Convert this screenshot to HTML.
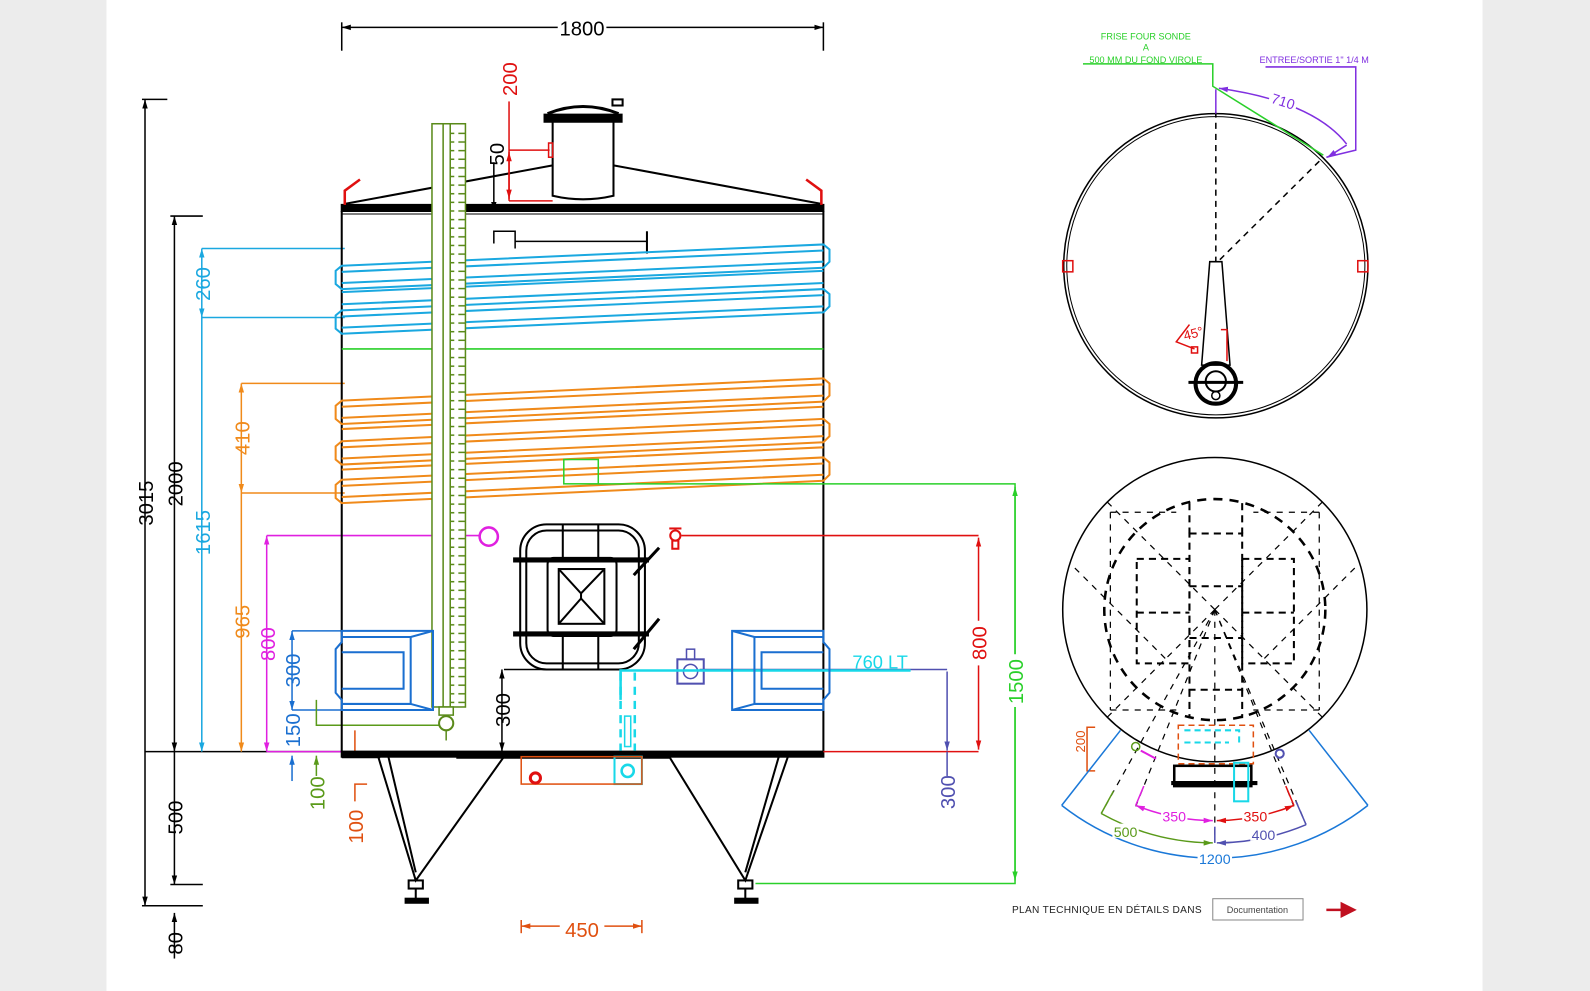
<!DOCTYPE html>
<html><head><meta charset="utf-8"><style>
html,body{margin:0;padding:0;background:#ececec;}
svg{display:block;}
text{font-family:"Liberation Sans",sans-serif;}
</style></head><body>
<svg width="1590" height="991" viewBox="0 0 1568 977" preserveAspectRatio="none" xmlns="http://www.w3.org/2000/svg">
<defs>
<marker id="a" viewBox="0 0 10 10" refX="10" refY="5" markerWidth="6" markerHeight="6" orient="auto-start-reverse"><path d="M0,2 L10,5 L0,8z" fill="context-stroke"/></marker>
<pattern id="tk" width="14" height="8.5" patternUnits="userSpaceOnUse"><line x1="4" y1="4" x2="14" y2="4" stroke="#5a8a1a" stroke-width="1.5"/></pattern>
</defs>
<rect x="0" y="0" width="1568" height="977" fill="#ececec"/>
<rect x="105" y="0" width="1357" height="977" fill="#fff"/>

<g stroke="#000" stroke-width="1.5" fill="none">
<line x1="337" y1="27" x2="812" y2="27" marker-start="url(#a)" marker-end="url(#a)"/>
<line x1="337" y1="22" x2="337" y2="50"/><line x1="812" y1="22" x2="812" y2="50"/>
</g>
<rect x="550" y="17" width="48" height="20" fill="#fff"/>
<text x="574" y="35" font-size="20" text-anchor="middle">1800</text>

<g stroke="#000" stroke-width="1.5" fill="none">
<line x1="143" y1="98" x2="143" y2="893" marker-start="url(#a)" marker-end="url(#a)"/>
<line x1="140" y1="98" x2="165" y2="98"/><line x1="140" y1="893" x2="200" y2="893"/>
<line x1="172" y1="213" x2="172" y2="741" marker-start="url(#a)" marker-end="url(#a)"/>
<line x1="172" y1="741" x2="172" y2="872" marker-end="url(#a)"/>
<line x1="168" y1="213" x2="200" y2="213"/><line x1="168" y1="872" x2="200" y2="872"/>
<line x1="172" y1="900" x2="172" y2="945" marker-start="url(#a)"/>
<line x1="143" y1="741" x2="337" y2="741"/>
</g>
<g font-size="20" text-anchor="middle">
<text transform="translate(151,496) rotate(-90)">3015</text>
<text transform="translate(180,477) rotate(-90)">2000</text>
<text transform="translate(180,806) rotate(-90)">500</text>
<text transform="translate(180,930) rotate(-90)">80</text>
</g>
<g stroke="#1aa8e0" stroke-width="1.5" fill="none">
<line x1="199" y1="245" x2="340" y2="245"/><line x1="199" y1="313" x2="340" y2="313"/>
<line x1="199" y1="245" x2="199" y2="313" marker-start="url(#a)" marker-end="url(#a)"/>
<line x1="199" y1="313" x2="199" y2="741" marker-end="url(#a)"/>
</g>
<g font-size="20" fill="#1aa8e0" text-anchor="middle">
<text transform="translate(207,280) rotate(-90)">260</text>
<text transform="translate(207,525) rotate(-90)">1615</text>
</g>
<g stroke="#f08a1a" stroke-width="1.5" fill="none">
<line x1="238" y1="378" x2="340" y2="378"/><line x1="238" y1="486" x2="340" y2="486"/>
<line x1="238" y1="378" x2="238" y2="486" marker-start="url(#a)" marker-end="url(#a)"/>
<line x1="238" y1="486" x2="238" y2="741" marker-end="url(#a)"/>
</g>
<g font-size="20" fill="#f08a1a" text-anchor="middle">
<text transform="translate(246,432) rotate(-90)">410</text>
<text transform="translate(246,613) rotate(-90)">965</text>
</g>
<g stroke="#e020e0" stroke-width="1.5" fill="none">
<line x1="263" y1="528" x2="474" y2="528"/>
<line x1="263" y1="528" x2="263" y2="741" marker-start="url(#a)" marker-end="url(#a)"/>
<circle cx="482" cy="529" r="9" stroke-width="2.5"/>
<line x1="263" y1="741" x2="337" y2="741"/>
</g>
<text transform="translate(271,635) rotate(-90)" font-size="20" fill="#e020e0" text-anchor="middle">800</text>
<g stroke="#1a6fd0" stroke-width="1.5" fill="none">
<line x1="288" y1="622" x2="337" y2="622"/><line x1="288" y1="700" x2="337" y2="700"/>
<line x1="288" y1="622" x2="288" y2="700" marker-start="url(#a)" marker-end="url(#a)"/>
<line x1="288" y1="745" x2="288" y2="770" marker-start="url(#a)"/>
</g>
<g font-size="20" fill="#1a6fd0" text-anchor="middle">
<text transform="translate(296,661) rotate(-90)">300</text>
<text transform="translate(296,720) rotate(-90)">150</text>
</g>
<g stroke="#5a9a1a" stroke-width="1.5" fill="none">
<polyline points="312,690 312,715 440,715"/>
<line x1="312" y1="745" x2="312" y2="765" marker-start="url(#a)"/>
</g>
<text transform="translate(320,782) rotate(-90)" font-size="20" fill="#5a9a1a" text-anchor="middle">100</text>
<g stroke="#e05010" stroke-width="1.5" fill="none">
<polyline points="350,720 350,745 362,745"/>
<polyline points="362,773 350,773 350,790"/>
</g>
<text transform="translate(358,815) rotate(-90)" font-size="20" fill="#e05010" text-anchor="middle">100</text>

<g stroke="#000" stroke-width="2" fill="none">
<line x1="337" y1="208" x2="337" y2="741"/><line x1="812" y1="208" x2="812" y2="741"/>
<rect x="337" y="202" width="475" height="6" fill="#000"/>
<line x1="337" y1="211" x2="812" y2="211" stroke-width="1"/>
<polyline points="340,201 545,163"/><polyline points="605,163 810,201"/>
<path d="M545,120 L545,193 Q575,200 605,193 L605,120"/>
<path d="M537,120 L613,120 L613,113 L537,113z" fill="#000"/>
<path d="M540,112 Q575,98 610,112" stroke-width="3"/>
<rect x="604" y="98" width="10" height="6"/>
<rect x="337" y="741" width="475" height="5" fill="#000"/>
<line x1="337" y1="746" x2="375" y2="746" stroke-width="3"/>
<polyline points="373,746 410,868 497,746"/>
<polyline points="383,746 410,860"/>
<polyline points="660,746 735,868 777,746"/>
<polyline points="768,746 735,860"/>
<rect x="403" y="868" width="14" height="8"/><line x1="410" y1="876" x2="410" y2="886"/><rect x="400" y="886" width="22" height="4" fill="#000"/>
<rect x="728" y="868" width="14" height="8"/><line x1="735" y1="876" x2="735" y2="886"/><rect x="725" y="886" width="22" height="4" fill="#000"/>
<line x1="450" y1="746" x2="660" y2="746" stroke-width="4"/>
<line x1="497" y1="660" x2="612" y2="660" stroke-width="1.5"/>
<line x1="495" y1="660" x2="495" y2="741" stroke-width="1.5" marker-start="url(#a)" marker-end="url(#a)"/>
<polyline points="487,240 487,228 508,228 508,245" stroke-width="1.5"/>
<line x1="508" y1="238" x2="638" y2="238" stroke-width="1.5"/>
<line x1="638" y1="228" x2="638" y2="250"/>
<line x1="487" y1="160" x2="487" y2="208" stroke-width="1.5" marker-end="url(#a)"/>
</g>
<text transform="translate(497,152) rotate(-90)" font-size="20" text-anchor="middle">50</text>
<text transform="translate(503,700) rotate(-90)" font-size="20" text-anchor="middle">300</text>
<g stroke="#e01010" stroke-width="2.5" fill="none">
<polyline points="355,177 340,188 340,202"/><polyline points="795,177 810,188 810,202"/>
</g>
<g stroke="#e01010" stroke-width="1.5" fill="none">
<line x1="502" y1="100" x2="502" y2="198"/><line x1="502" y1="198" x2="545" y2="198"/>
<line x1="502" y1="148" x2="542" y2="148"/><rect x="541" y="141" width="4" height="14"/>
<line x1="502" y1="150" x2="502" y2="196" marker-start="url(#a)" marker-end="url(#a)"/>
</g>
<text transform="translate(510,78) rotate(-90)" font-size="20" fill="#e01010" text-anchor="middle">200</text>

<g stroke="#1aa8e0" stroke-width="2" fill="none">
<path d="M337,262 L812,241 L818,246 L818,258 L812,264 L337,285 L331,280 L331,267z"/>
<path d="M337,268 L812,247 M337,279 L812,258"/>
<path d="M337,306 L812,285 L818,290 L818,302 L812,308 L337,329 L331,324 L331,311z"/>
<path d="M337,312 L812,291 M337,323 L812,302"/>
<path d="M337,288 L812,267 M337,300 L812,279"/>
</g>
<line x1="337" y1="344" x2="812" y2="344" stroke="#2ad02a" stroke-width="1.5"/>
<g stroke="#f08a1a" stroke-width="2" fill="none">
<path d="M337,395 L812,373 L818,378 L818,390 L812,396 L337,418 L331,413 L331,400z"/>
<path d="M337,435 L812,413 L818,418 L818,430 L812,436 L337,458 L331,453 L331,440z"/>
<path d="M337,473 L812,451 L818,456 L818,468 L812,474 L337,496 L331,491 L331,478z"/>
<path d="M337,401 L812,379 M337,412 L812,390 M337,441 L812,419 M337,452 L812,430 M337,479 L812,457 M337,490 L812,468 M337,423 L812,401 M337,463 L812,441"/>
</g>
<g stroke="#5a8a1a" stroke-width="1.5" fill="#fff">
<rect x="426" y="122" width="33" height="575"/>
<line x1="437" y1="122" x2="437" y2="697"/><line x1="444" y1="122" x2="444" y2="697"/>
<rect x="444" y="124" width="15" height="571" fill="url(#tk)" stroke="none"/>
<rect x="433" y="697" width="14" height="8"/>
<circle cx="440" cy="713" r="7" stroke-width="2"/>
<line x1="440" y1="720" x2="440" y2="730"/>
</g>
<g stroke="#2ad02a" stroke-width="1.5" fill="none">
<rect x="556" y="453" width="34" height="24"/>
<polyline points="590,477 1001,477 1001,871 745,871"/>
<line x1="1001" y1="480" x2="1001" y2="868" marker-start="url(#a)" marker-end="url(#a)"/>
</g>
<rect x="991" y="645" width="20" height="52" fill="#fff"/>
<text transform="translate(1009,672) rotate(-90)" font-size="20" fill="#2ad02a" text-anchor="middle">1500</text>

<g stroke="#000" stroke-width="2" fill="none">
<rect x="513" y="517" width="123" height="143" rx="26"/>
<rect x="519" y="523" width="111" height="131" rx="20"/>
<rect x="540" y="550" width="68" height="77" rx="6"/>
<rect x="551" y="561" width="45" height="54"/>
<path d="M551,561 L573,585 L596,561 M551,615 L573,590 L596,615 M573,585 L573,590"/>
<line x1="506" y1="552" x2="640" y2="552" stroke-width="5"/>
<line x1="506" y1="625" x2="640" y2="625" stroke-width="5"/>
<line x1="625" y1="567" x2="650" y2="540" stroke-width="3"/>
<line x1="625" y1="640" x2="650" y2="610" stroke-width="3"/>
<line x1="555" y1="517" x2="555" y2="550"/><line x1="590" y1="517" x2="590" y2="550"/>
<line x1="555" y1="627" x2="555" y2="660"/><line x1="590" y1="627" x2="590" y2="660"/>
</g>
<g stroke="#e01010" stroke-width="1.5" fill="none">
<line x1="672" y1="528" x2="965" y2="528"/>
<line x1="812" y1="741" x2="965" y2="741"/>
<line x1="965" y1="530" x2="965" y2="739" marker-start="url(#a)" marker-end="url(#a)"/>
<circle cx="666" cy="528" r="5" stroke-width="2"/><line x1="660" y1="521" x2="672" y2="521" stroke-width="2"/>
<rect x="663" y="533" width="6" height="8" stroke-width="2"/>
</g>
<rect x="955" y="612" width="20" height="44" fill="#fff"/>
<text transform="translate(973,634) rotate(-90)" font-size="20" fill="#e01010" text-anchor="middle">800</text>
<g stroke="#5050b0" stroke-width="1.5" fill="none">
<line x1="690" y1="660" x2="934" y2="660"/>
<line x1="934" y1="662" x2="934" y2="740" marker-end="url(#a)"/>
<line x1="934" y1="741" x2="934" y2="765"/>
<rect x="668" y="650" width="26" height="24" stroke-width="2"/><circle cx="681" cy="662" r="7"/>
<rect x="677" y="640" width="8" height="10"/>
</g>
<text transform="translate(942,781) rotate(-90)" font-size="20" fill="#5050b0" text-anchor="middle">300</text>
<g stroke="#18d8e8" stroke-width="2.5" fill="none">
<polyline points="612,690 612,661 898,661"/>
<line x1="626" y1="663" x2="626" y2="740" stroke-dasharray="8,6"/>
<line x1="612" y1="663" x2="612" y2="740" stroke-dasharray="8,6"/>
<rect x="616" y="706" width="6" height="30" stroke-width="1.5"/>
<rect x="606" y="746" width="27" height="27" stroke-width="2"/><circle cx="619" cy="760" r="6"/>
</g>
<text x="868" y="659" font-size="18" fill="#18d8e8" text-anchor="middle">760 LT</text>
<g stroke="#1a6fd0" stroke-width="2" fill="none">
<path d="M337,622 L427,622 L427,700 L337,700 L337,690 L331,683 L331,640 L337,633z"/>
<path d="M337,628 L405,628 L405,694 L337,694 M405,628 L427,622 M405,694 L427,700 M337,643 L398,643 L398,679 L337,679"/>
<path d="M812,622 L722,622 L722,700 L812,700 L812,690 L818,683 L818,640 L812,633z"/>
<path d="M812,628 L744,628 L744,694 L812,694 M744,628 L722,622 M744,694 L722,700 M812,643 L751,643 L751,679 L812,679"/>
</g>
<g stroke="#e05010" stroke-width="1.5" fill="none">
<rect x="514" y="746" width="119" height="27"/>
<line x1="514" y1="913" x2="633" y2="913" marker-start="url(#a)" marker-end="url(#a)"/>
<line x1="514" y1="907" x2="514" y2="920"/><line x1="633" y1="907" x2="633" y2="920"/>
</g>
<circle cx="528" cy="767" r="5" stroke="#e01010" stroke-width="3" fill="none"/>
<rect x="552" y="905" width="44" height="20" fill="#fff"/>
<text x="574" y="924" font-size="20" fill="#e05010" text-anchor="middle">450</text>

<g fill="none" stroke="#000">
<circle cx="1199" cy="262" r="150" stroke-width="1.5"/>
<circle cx="1199" cy="262" r="147" stroke-width="1"/>
<line x1="1199" y1="110" x2="1199" y2="258" stroke-dasharray="6,5" stroke-width="1.5"/>
<line x1="1203" y1="256" x2="1305" y2="155" stroke-dasharray="6,5" stroke-width="1.5"/>
<path d="M1193,258 L1205,258 L1213,360 L1185,360z" stroke-width="1.5"/>
<circle cx="1199" cy="378" r="20" stroke-width="4"/>
<circle cx="1199" cy="376" r="10" stroke-width="2"/>
<line x1="1172" y1="377" x2="1226" y2="377" stroke-width="3"/>
<circle cx="1199" cy="390" r="4" stroke-width="1.5"/>
</g>
<g stroke="#e01010" stroke-width="1.5" fill="none">
<rect x="1048" y="257" width="10" height="11"/><rect x="1339" y="257" width="10" height="11"/>
<polyline points="1204,325 1210,325 1210,356"/>
<polyline points="1178,344 1160,337 1173,320"/><rect x="1175" y="342" width="6" height="6"/>
</g>
<text x="1178" y="333" font-size="13" fill="#e01010" text-anchor="middle" transform="rotate(-15 1178 333)">45°</text>
<g stroke="#2ad02a" stroke-width="1.5" fill="none">
<polyline points="1068,63 1196,63 1196,85 1305,153"/>
</g>
<g font-size="9" fill="#2ad02a" text-anchor="middle">
<text x="1130" y="39">FRISE FOUR SONDE</text>
<text x="1130" y="50">A</text>
<text x="1130" y="62">500 MM DU FOND VIROLE</text>
</g>
<g stroke="#8030e0" stroke-width="1.5" fill="none">
<path d="M1202,87 Q1295,100 1328,142" marker-start="url(#a)"/>
<polyline points="1248,66 1337,66 1337,148 1308,155" />
<line x1="1328" y1="143" x2="1309" y2="155" marker-end="url(#a)"/>
<line x1="1199" y1="88" x2="1199" y2="112"/>
</g>
<rect x="1252" y="90" width="28" height="16" fill="#fff" transform="rotate(18 1266 98)"/>
<text x="1266" y="105" font-size="14" fill="#8030e0" text-anchor="middle" transform="rotate(18 1266 98)">710</text>
<text x="1296" y="62" font-size="9" fill="#8030e0" text-anchor="middle">ENTREE/SORTIE 1" 1/4 M</text>

<g fill="none" stroke="#000" stroke-width="1.5">
<circle cx="1198" cy="601" r="150"/>
<circle cx="1198" cy="601" r="109" stroke-dasharray="9,7" stroke-width="2.5"/>
<g stroke-dasharray="7,5" stroke-width="2">
<rect x="1173" y="526" width="52" height="154"/>
<line x1="1173" y1="578" x2="1225" y2="578"/><line x1="1173" y1="629" x2="1225" y2="629"/>
<rect x="1121" y="551" width="52" height="103"/><line x1="1121" y1="604" x2="1173" y2="604"/>
<rect x="1225" y="551" width="51" height="103"/><line x1="1225" y1="604" x2="1276" y2="604"/>
<line x1="1173" y1="496" x2="1173" y2="526"/><line x1="1225" y1="496" x2="1225" y2="526"/>
<line x1="1173" y1="680" x2="1173" y2="708"/><line x1="1225" y1="680" x2="1225" y2="708"/>
</g>
<g stroke-dasharray="6,6" stroke-width="1.2">
<line x1="1198" y1="601" x2="1092" y2="495"/><line x1="1198" y1="601" x2="1304" y2="495"/>
<line x1="1198" y1="601" x2="1092" y2="707"/><line x1="1198" y1="601" x2="1304" y2="707"/>
<line x1="1198" y1="601" x2="1198" y2="830"/>
<line x1="1198" y1="601" x2="1120" y2="795"/><line x1="1198" y1="601" x2="1276" y2="795"/>
<line x1="1198" y1="601" x2="1086" y2="802"/><line x1="1198" y1="601" x2="1288" y2="813"/>
<line x1="1095" y1="505" x2="1095" y2="700"/><line x1="1301" y1="505" x2="1301" y2="700"/>
<line x1="1095" y1="505" x2="1160" y2="505"/><line x1="1301" y1="505" x2="1236" y2="505"/>
<line x1="1095" y1="700" x2="1160" y2="700"/><line x1="1301" y1="700" x2="1236" y2="700"/>
<line x1="1060" y1="560" x2="1150" y2="650"/><line x1="1336" y1="560" x2="1246" y2="650"/>
</g>
<rect x="1158" y="755" width="76" height="20" stroke-width="2.5"/>
<line x1="1155" y1="772" x2="1240" y2="772" stroke-width="4"/>
</g>
<g stroke="#e05010" stroke-width="1.5" fill="none">
<rect x="1162" y="715" width="74" height="38" stroke-dasharray="6,4"/>
<polyline points="1080,717 1072,717 1072,760 1080,760"/>
</g>
<text transform="translate(1070,731) rotate(-90)" font-size="13" fill="#e05010" text-anchor="middle">200</text>
<g stroke="#18d8e8" stroke-width="2" fill="none">
<polyline points="1168,720 1222,720 1222,735" stroke-dasharray="6,4"/>
<line x1="1168" y1="732" x2="1212" y2="732" stroke-dasharray="6,4"/>
<rect x="1217" y="752" width="14" height="38"/>
</g>
<g fill="none" stroke-width="1.5">
<path d="M1047,794 A245,245 0 0 0 1349,794" stroke="#1a78d8"/>
<line x1="1105" y1="720" x2="1047" y2="794" stroke="#1a78d8"/>
<line x1="1291" y1="720" x2="1349" y2="794" stroke="#1a78d8"/>
<path d="M1086,802 A230,230 0 0 0 1196,831" stroke="#5a9a1a" marker-end="url(#a)"/>
<line x1="1098" y1="780" x2="1086" y2="802" stroke="#5a9a1a"/>
<path d="M1200,831 A230,230 0 0 0 1288,813" stroke="#5050b0" marker-start="url(#a)"/>
<line x1="1278" y1="790" x2="1288" y2="813" stroke="#5050b0"/>
<line x1="1198" y1="815" x2="1198" y2="831" stroke="#5050b0"/>
<path d="M1120,794 A208,208 0 0 0 1196,809" stroke="#e020e0" marker-start="url(#a)" marker-end="url(#a)"/>
<line x1="1128" y1="775" x2="1120" y2="794" stroke="#e020e0"/>
<path d="M1200,809 A208,208 0 0 0 1276,794" stroke="#e01010" marker-start="url(#a)" marker-end="url(#a)"/>
<line x1="1268" y1="775" x2="1276" y2="794" stroke="#e01010"/>
<line x1="1125" y1="740" x2="1140" y2="748" stroke="#e020e0" stroke-width="2"/>
<circle cx="1120" cy="736" r="4" stroke="#5a9a1a"/>
<circle cx="1262" cy="743" r="4" stroke="#5050b0" stroke-width="2"/>
</g>
<g font-size="14" text-anchor="middle">
<rect x="1145" y="797" width="26" height="14" fill="#fff"/><text x="1158" y="810" fill="#e020e0">350</text>
<rect x="1225" y="797" width="26" height="14" fill="#fff"/><text x="1238" y="810" fill="#e01010">350</text>
<rect x="1097" y="812" width="26" height="14" fill="#fff"/><text x="1110" y="825" fill="#5a9a1a">500</text>
<rect x="1233" y="815" width="26" height="14" fill="#fff"/><text x="1246" y="828" fill="#5050b0">400</text>
<rect x="1181" y="839" width="34" height="14" fill="#fff"/><text x="1198" y="852" fill="#1a78d8">1200</text>
</g>

<text x="998" y="900" font-size="10" letter-spacing="0.3" fill="#222">PLAN TECHNIQUE EN DÉTAILS DANS</text>
<rect x="1196" y="886" width="89" height="21" fill="#fff" stroke="#888" stroke-width="1"/>
<text x="1240" y="900" font-size="9" fill="#444" text-anchor="middle">Documentation</text>
<line x1="1308" y1="897" x2="1325" y2="897" stroke="#c01020" stroke-width="2.5"/>
<path d="M1322,889 L1338,897 L1322,905z" fill="#c01020"/>
</svg>
</body></html>
